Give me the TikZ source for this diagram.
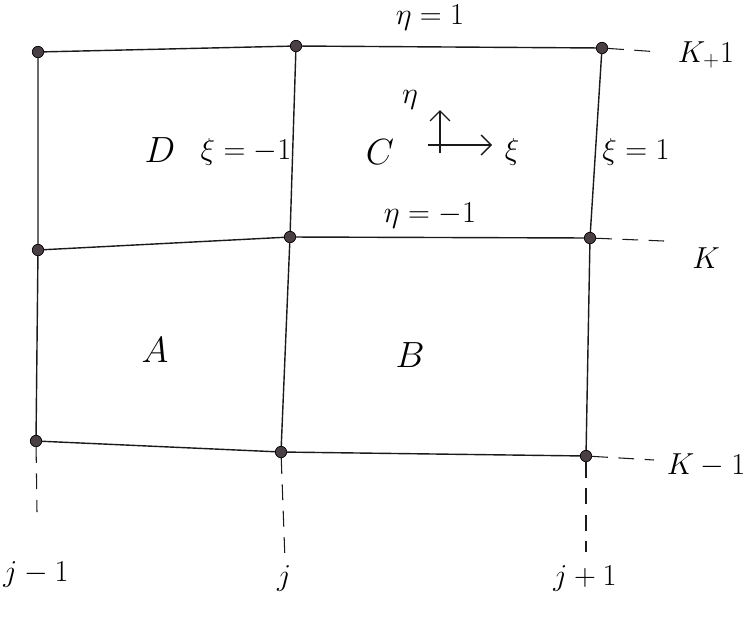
\documentclass[tikz,border=0pt]{standalone}
\usepackage{amsmath, amssymb}
\usetikzlibrary{arrows.meta}
\definecolor{dcol}{HTML}{4A3F44}
\definecolor{lcol}{HTML}{1A1A1A}
\tikzset{gpt/.style={circle, fill=dcol, draw=black, thin, inner sep=0pt, minimum size=6.5pt},
  gline/.style={lcol, thick},
  idx/.style={lcol, semithick, dash pattern=on 9pt off 6pt},
  cell/.style={font=\huge},
  lab/.style={font=\LARGE}}

\begin{document}
\begin{tikzpicture}[x=0.02cm, y=-0.02cm, >={Straight Barb[length=2mm]}]
\useasboundingbox (0,0) rectangle (744,616);
\node[gpt] (p11) at (38,52) {};
\node[gpt] (p12) at (296,46) {};
\node[gpt] (p13) at (602,48) {};
\node[gpt] (p21) at (38,250) {};
\node[gpt] (p22) at (290,237) {};
\node[gpt] (p23) at (590,238) {};
\node[gpt] (p31) at (36,441) {};
\node[gpt] (p32) at (281,452) {};
\node[gpt] (p33) at (586,456) {};
\draw[gline] (p11) -- (p12) -- (p13);
\draw[gline] (p21) -- (p22) -- (p23);
\draw[gline] (p31) -- (p32) -- (p33);
\draw[gline] (p11) -- (p21) -- (p31);
\draw[gline] (p12) -- (p22) -- (p32);
\draw[gline] (p13) -- (p23) -- (p33);
\node[lab] (kp) at (706,55) {$K_{+}1$};
\node[lab] (k) at (706,258) {$K$};
\node[lab] (km) at (706,465) {$K-1$};
\coordinate (kpe) at (660,52);
\coordinate (ke) at (664,241);
\coordinate (kme) at (654,460);
\draw[idx] (p13) -- (kpe);
\draw[idx] (p23) -- (ke);
\draw[idx] (p33) -- (kme);
\node[lab] (jm) at (36,574) {$j-1$};
\node[lab] (j) at (284,578) {$j$};
\node[lab] (jp) at (585,578) {$j+1$};
\coordinate (jme) at (37,512);
\coordinate (je) at (285,560);
\coordinate (jpe) at (586,552);
\draw[idx] (p31) -- (jme);
\draw[idx] (p32) -- (je);
\draw[idx] (p33) -- (jpe);
\node[lab] (etap) at (430,18) {$\eta=1$};
\node[lab] (etam) at (430,216) {$\eta=-1$};
\node[lab] (xim) at (246,152) {$\xi=-1$};
\node[lab] (xip) at (636,152) {$\xi=1$};
\node[cell] (D) at (160,150) {$D$};
\node[cell] (C) at (380,152) {$C$};
\node[cell] (A) at (155,350) {$A$};
\node[cell] (B) at (410,355) {$B$};
\coordinate (o) at (440,145);
\coordinate (ou) at (440,110);
\coordinate (or) at (492,145);
\draw[gline] (428,145) -- (o) -- (440,153);
\draw[gline, ->] (o) -- (ou);
\draw[gline, ->] (o) -- (or);
\node[lab] (eta) at (410,100) {$\eta$};
\node[lab] (xi) at (512,152) {$\xi$};
\end{tikzpicture}
\end{document}
